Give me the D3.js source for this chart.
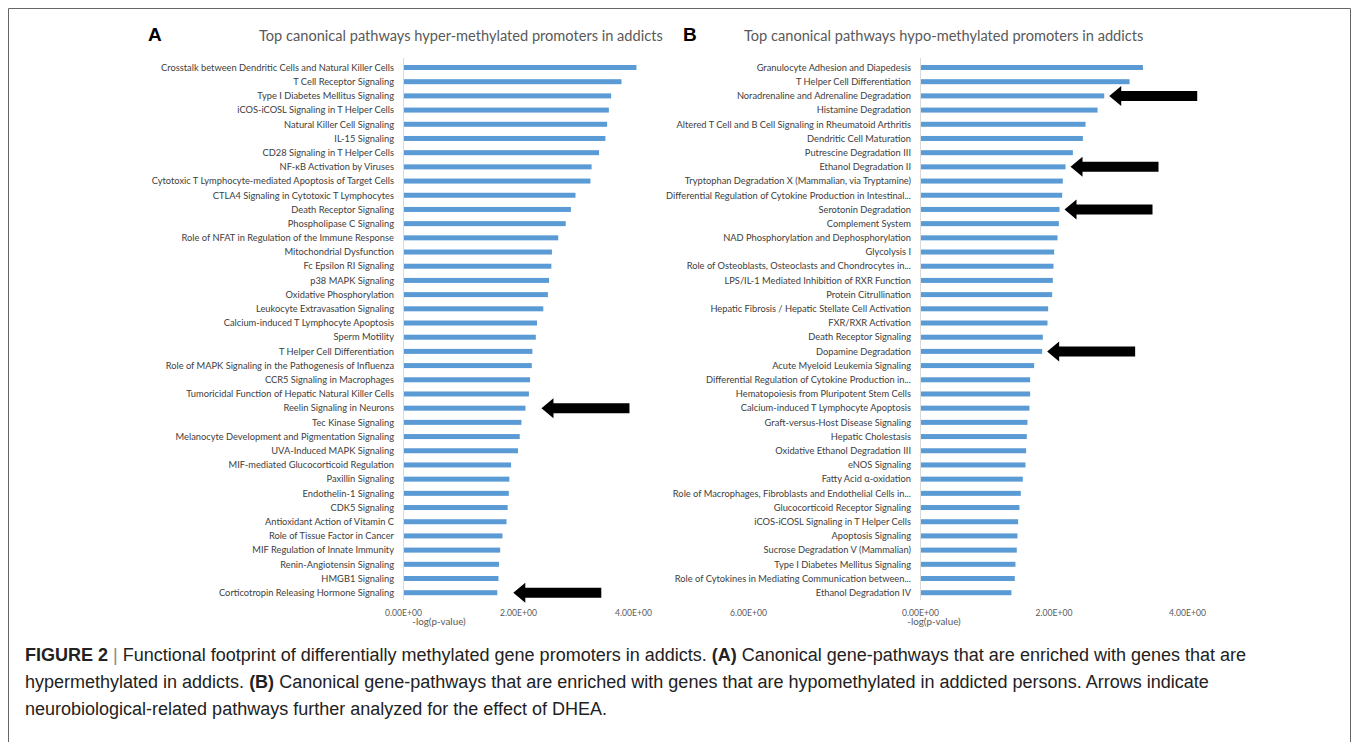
<!DOCTYPE html>
<html>
<head>
<meta charset="utf-8">
<script src="https://cdn.jsdelivr.net/npm/d3@7"></script>
<style>
  body { margin: 0; background: #fff; }
  svg { display: block; }
</style>
</head>
<body>
<div id="chart"></div>
<script>
// Panel A - hyper-methylated promoters
var hyperPathways = [
  "Crosstalk between Dendritic Cells and Natural Killer Cells",
  "T Cell Receptor Signaling",
  "Type I Diabetes Mellitus Signaling",
  "iCOS-iCOSL Signaling in T Helper Cells",
  "Natural Killer Cell Signaling",
  "IL-15 Signaling",
  "CD28 Signaling in T Helper Cells",
  "NF-κB Activation by Viruses",
  "Cytotoxic T Lymphocyte-mediated Apoptosis of Target Cells",
  "CTLA4 Signaling in Cytotoxic T Lymphocytes",
  "Death Receptor Signaling",
  "Phospholipase C Signaling",
  "Role of NFAT in Regulation of the Immune Response",
  "Mitochondrial Dysfunction",
  "Fc Epsilon RI Signaling",
  "p38 MAPK Signaling",
  "Oxidative Phosphorylation",
  "Leukocyte Extravasation Signaling",
  "Calcium-induced T Lymphocyte Apoptosis",
  "Sperm Motility",
  "T Helper Cell Differentiation",
  "Role of MAPK Signaling in the Pathogenesis of Influenza",
  "CCR5 Signaling in Macrophages",
  "Tumoricidal Function of Hepatic Natural Killer Cells",
  "Reelin Signaling in Neurons",
  "Tec Kinase Signaling",
  "Melanocyte Development and Pigmentation Signaling",
  "UVA-Induced MAPK Signaling",
  "MIF-mediated Glucocorticoid Regulation",
  "Paxillin Signaling",
  "Endothelin-1 Signaling",
  "CDK5 Signaling",
  "Antioxidant Action of Vitamin C",
  "Role of Tissue Factor in Cancer",
  "MIF Regulation of Innate Immunity",
  "Renin-Angiotensin Signaling",
  "HMGB1 Signaling",
  "Corticotropin Releasing Hormone Signaling"
];
var hyperValues = [
  4.06, 3.80, 3.62, 3.58, 3.55, 3.52, 3.41, 3.28, 3.26, 3.00,
  2.92, 2.83, 2.70, 2.59, 2.58, 2.54, 2.52, 2.44, 2.33, 2.31,
  2.25, 2.24, 2.21, 2.19, 2.13, 2.06, 2.03, 2.00, 1.88, 1.85,
  1.84, 1.82, 1.80, 1.73, 1.69, 1.67, 1.66, 1.64
];
var hyperArrows = ["Reelin Signaling in Neurons", "Corticotropin Releasing Hormone Signaling"];
var hyperTicks = [0, 2, 4, 6];

// Panel B - hypo-methylated promoters
var hypoPathways = [
  "Granulocyte Adhesion and Diapedesis",
  "T Helper Cell Differentiation",
  "Noradrenaline and Adrenaline Degradation",
  "Histamine Degradation",
  "Altered T Cell and B Cell Signaling in Rheumatoid Arthritis",
  "Dendritic Cell Maturation",
  "Putrescine Degradation III",
  "Ethanol Degradation II",
  "Tryptophan Degradation X (Mammalian, via Tryptamine)",
  "Differential Regulation of Cytokine Production in Intestinal...",
  "Serotonin Degradation",
  "Complement System",
  "NAD Phosphorylation and Dephosphorylation",
  "Glycolysis I",
  "Role of Osteoblasts, Osteoclasts and Chondrocytes in...",
  "LPS/IL-1 Mediated Inhibition of RXR Function",
  "Protein Citrullination",
  "Hepatic Fibrosis / Hepatic Stellate Cell Activation",
  "FXR/RXR Activation",
  "Death Receptor Signaling",
  "Dopamine Degradation",
  "Acute Myeloid Leukemia Signaling",
  "Differential Regulation of Cytokine Production in...",
  "Hematopoiesis from Pluripotent Stem Cells",
  "Calcium-induced T Lymphocyte Apoptosis",
  "Graft-versus-Host Disease Signaling",
  "Hepatic Cholestasis",
  "Oxidative Ethanol Degradation III",
  "eNOS Signaling",
  "Fatty Acid α-oxidation",
  "Role of Macrophages, Fibroblasts and Endothelial Cells in...",
  "Glucocorticoid Receptor Signaling",
  "iCOS-iCOSL Signaling in T Helper Cells",
  "Apoptosis Signaling",
  "Sucrose Degradation V (Mammalian)",
  "Type I Diabetes Mellitus Signaling",
  "Role of Cytokines in Mediating Communication between...",
  "Ethanol Degradation IV"
];
var hypoValues = [
  3.34, 3.14, 2.76, 2.66, 2.48, 2.44, 2.29, 2.18, 2.14, 2.13,
  2.09, 2.08, 2.06, 2.01, 2.00, 1.99, 1.98, 1.92, 1.91, 1.84,
  1.83, 1.71, 1.65, 1.65, 1.64, 1.61, 1.60, 1.59, 1.58, 1.54,
  1.51, 1.49, 1.47, 1.46, 1.45, 1.43, 1.42, 1.37
];
var hypoArrows = [
  "Noradrenaline and Adrenaline Degradation",
  "Ethanol Degradation II",
  "Serotonin Degradation",
  "Dopamine Degradation"
];
var hypoTicks = [0, 2, 4];

var W = 1358, H = 742;
var svg = d3.select("#chart").append("svg").attr("width", W).attr("height", H);

// frame round the whole figure
svg.append("path")
  .attr("d", "M8.5," + H + "V8.5H1350.5V" + H)
  .attr("fill", "none").attr("stroke", "#666").attr("stroke-width", 1);

var sci = v => v.toExponential(2).toUpperCase().replace(/E([+-])(\d)$/, "E$10$2");

var labelFont = "Lato, 'Open Sans', sans-serif";

function drawPanel(opt) {
  var data = opt.names.map((n, i) => ({ name: n, value: opt.values[i] }));
  var x = d3.scaleLinear().domain(opt.domain).range(opt.xRange);
  var y = d3.scalePoint().domain(opt.names).range([67.5, 592.7]);
  var g = svg.append("g");

  // panel letter + title
  g.append("text").attr("x", opt.letterX).attr("y", 41)
    .attr("font-family", "'Liberation Sans', Arial, sans-serif").attr("font-weight", "bold")
    .attr("font-size", 19).attr("fill", "#000").text(opt.letter);
  g.append("text").attr("x", opt.titleX).attr("y", 41)
    .attr("font-family", labelFont).attr("font-size", 14.6).attr("fill", "#595959")
    .text(opt.title);

  // vertical axis line
  g.append("line").attr("x1", x(0) + 0.5).attr("x2", x(0) + 0.5).attr("y1", 58).attr("y2", 600)
    .attr("stroke", "#d9d9d9");

  g.selectAll("rect.bar").data(data).join("rect")
    .attr("class", "bar")
    .attr("x", x(0) + 1)
    .attr("y", d => y(d.name) - 2.5)
    .attr("width", d => x(d.value) - x(0) - 1)
    .attr("height", 5)
    .attr("fill", "#5b9bd5");

  g.selectAll("text.cat").data(data).join("text")
    .attr("class", "cat")
    .attr("x", x(0) - 9)
    .attr("y", d => y(d.name))
    .attr("dy", "0.35em")
    .attr("text-anchor", "end")
    .attr("font-family", labelFont).attr("font-size", 9.3).attr("fill", "#404040")
    .text(d => d.name);

  // bottom tick labels
  var axis = d3.axisBottom(x).tickValues(opt.ticks).tickSize(0).tickFormat(sci);
  var ax = g.append("g").attr("transform", "translate(0,607)").call(axis);
  ax.select(".domain").remove();
  ax.selectAll("text").attr("font-family", labelFont).attr("font-size", 8.6).attr("fill", "#595959");

  g.append("text").attr("x", opt.axisTitleX).attr("y", 625)
    .attr("text-anchor", "middle")
    .attr("font-family", labelFont).attr("font-size", 9.8).attr("fill", "#595959")
    .text("-log(p-value)");

  // block arrows pointing at the bars
  var arrowLen = 88, headLen = 12, headH = 10, shaftH = 5;
  var arrowData = data.filter(d => opt.arrows.indexOf(d.name) >= 0);
  g.selectAll("path.arrow").data(arrowData).join("path")
    .attr("class", "arrow")
    .attr("d", d => {
      var tx = x(d.value) + opt.arrowGap, ty = y(d.name);
      return "M" + tx + "," + ty +
        "L" + (tx + headLen) + "," + (ty - headH) +
        "L" + (tx + headLen) + "," + (ty - shaftH) +
        "L" + (tx + arrowLen) + "," + (ty - shaftH) +
        "L" + (tx + arrowLen) + "," + (ty + shaftH) +
        "L" + (tx + headLen) + "," + (ty + shaftH) +
        "L" + (tx + headLen) + "," + (ty + headH) + "Z";
    })
    .attr("fill", "#000");
}

drawPanel({
  letter: "A", letterX: 148, titleX: 259,
  title: "Top canonical pathways hyper-methylated promoters in addicts",
  names: hyperPathways, values: hyperValues, arrows: hyperArrows, arrowGap: 16,
  ticks: hyperTicks, domain: [0, 6], xRange: [403, 748], axisTitleX: 439
});
drawPanel({
  letter: "B", letterX: 683, titleX: 744,
  title: "Top canonical pathways hypo-methylated promoters in addicts",
  names: hypoPathways, values: hypoValues, arrows: hypoArrows, arrowGap: 5,
  ticks: hypoTicks, domain: [0, 4], xRange: [920, 1187], axisTitleX: 934
});

// caption
var capFont = "'Liberation Sans', Arial, Helvetica, sans-serif";
var cap = svg.append("text").attr("font-family", capFont).attr("font-size", 18).attr("fill", "#222");
var line1 = cap.append("tspan").attr("x", 25).attr("y", 661);
line1.append("tspan").attr("font-weight", "bold").text("FIGURE 2");
line1.append("tspan").attr("fill", "#888").text(" | ");
line1.append("tspan").text("Functional footprint of differentially methylated gene promoters in addicts. ");
line1.append("tspan").attr("font-weight", "bold").text("(A)");
line1.append("tspan").text(" Canonical gene-pathways that are enriched with genes that are");
var line2 = cap.append("tspan").attr("x", 25).attr("y", 688);
line2.append("tspan").text("hypermethylated in addicts. ");
line2.append("tspan").attr("font-weight", "bold").text("(B)");
line2.append("tspan").text(" Canonical gene-pathways that are enriched with genes that are hypomethylated in addicted persons. Arrows indicate");
cap.append("tspan").attr("x", 25).attr("y", 715)
  .text("neurobiological-related pathways further analyzed for the effect of DHEA.");
</script>
</body>
</html>
